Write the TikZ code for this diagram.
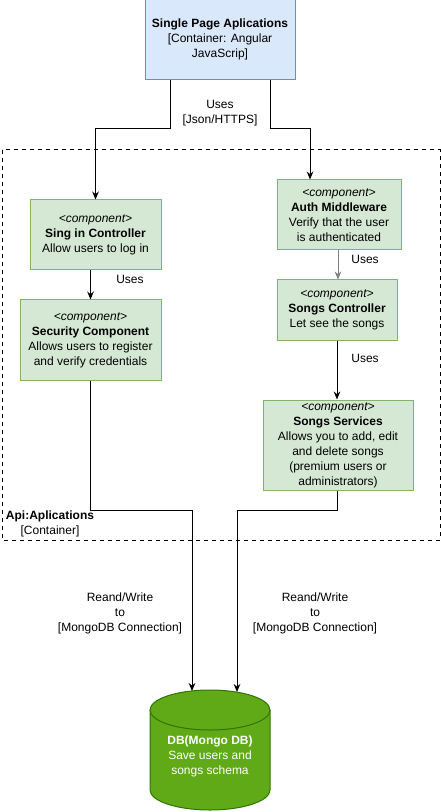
\documentclass[tikz,border=0pt]{standalone}
\usepackage{fontspec}
\setmainfont{Liberation Sans}
\usetikzlibrary{arrows.meta}
\def\u{0.75pt}
\definecolor{spafill}{HTML}{DAE8FC}
\definecolor{spaline}{HTML}{6C8EBF}
\definecolor{compfill}{HTML}{D5E8D4}
\definecolor{compline}{HTML}{82B366}
\definecolor{dbfill}{HTML}{60A917}
\definecolor{dbline}{HTML}{2D7600}
\tikzset{
	txt/.style={font=\fontsize{9}{11.25}\selectfont, align=center, inner sep=0pt},
	compbox/.style={txt, draw=compline, fill=compfill, line width=0.75pt},
	conn/.style={line width=0.75pt, -{Stealth[length=6pt,width=5pt]}},
	dbshape/.style={draw=dbline, fill=dbfill, line width=0.75pt},
}
\begin{document}
\begin{tikzpicture}[x=\u, y=-\u]
			%%%%% START %%%%%
			\useasboundingbox (0,0) rectangle (441,812);
			
			\draw[dashed, line width=0.75pt] (2,150) rectangle (440,540);
			\node[txt] (apilbl) at (50,524) {\textbf{Api:Aplications}\\{[}Container{]}};
			
			\node[txt, draw=spaline, fill=spafill, line width=0.75pt, minimum width=150*\u, minimum height=81*\u] (spa) at (220,39.5) {\textbf{Single Page Aplications}\\{[}Container: Angular\\JavaScrip{]}};
			
			\node[compbox, minimum width=131*\u, minimum height=70*\u] (sing) at (95.5,235) {\textit{<component>}\\\textbf{Sing in Controller}\\Allow users to log in};
			\node[compbox, minimum width=141*\u, minimum height=80*\u] (sec) at (90.5,340) {\textit{<component>}\\\textbf{Security Component}\\Allows users to register\\and verify credentials};
			\node[compbox, minimum width=124*\u, minimum height=70*\u] (auth) at (339,215) {\textit{<component>}\\\textbf{Auth Middleware}\\Verify that the user\\is authenticated};
			\node[compbox, minimum width=120*\u, minimum height=60*\u] (songc) at (337,310) {\textit{<component>}\\\textbf{Songs Controller}\\Let see the songs};
			\node[compbox, minimum width=150*\u, minimum height=90*\u] (songs) at (338,445) {\textit{<component>}\\\textbf{Songs Services}\\Allows you to add, edit\\and delete songs\\(premium users or\\administrators)};
			
			% database cylinder
			\draw[dbshape] (150,710) -- (150,790) arc (180:0:60 and 20) -- (270,710) arc (0:-180:60 and 20) -- cycle;
			\draw[dbshape, fill=none] (150,710) arc (180:0:60 and 20);
			\node[txt, text=white] (db) at (210,756.5) {\textbf{DB(Mongo DB)}\\Save users and\\songs schema};
			\coordinate (dbinL) at (192,691);
			\coordinate (dbinR) at (237,692);
			
			% arrows
			\draw[conn] ([xshift=-50*\u]spa.south) -- ++(0,48) -| (sing.north);
			\draw[conn] ([xshift=50*\u]spa.south) -- ++(0,48) -| ([xshift=-29*\u]auth.north);
			\node[txt] (usesjson) at (220,113.5) {Uses\\{[}Json/HTTPS{]}};
			
			\draw[conn] (sing.south -| sec.north) -- (sec.north);
			\node[txt] (uses1) at (130,279) {Uses};
			
			\draw[conn, draw=gray] ([xshift=-1*\u]auth.south) -- ([xshift=-1*\u]auth.south |- songc.north);
			\node[txt] (uses2) at (365,259) {Uses};
			\draw[conn] (songc.south) -- (songc.south |- songs.north);
			\node[txt] (uses3) at (365,358) {Uses};
			
			\draw[conn] (sec.south) -- ++(0,130) -| (dbinL);
			\draw[conn] ([xshift=-1*\u]songs.south) -- ++(0,20) -| (dbinR);
			\node[txt] (rw1) at (120,613) {Reand/Write\\to\\{[}MongoDB Connection{]}};
			\node[txt] (rw2) at (315,613) {Reand/Write\\to\\{[}MongoDB Connection{]}};
			%%%%% END %%%%%
\end{tikzpicture}
\end{document}
